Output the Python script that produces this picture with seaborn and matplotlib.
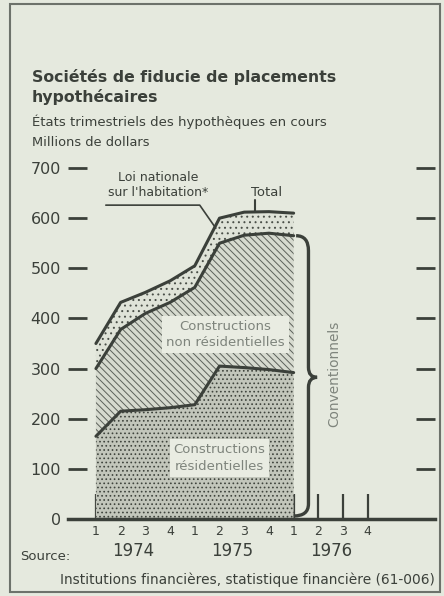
import matplotlib
matplotlib.use("Agg")
import matplotlib.pyplot as plt
import seaborn as sns
import numpy as np
import pandas as pd
from matplotlib.path import Path
from matplotlib.patches import PathPatch, Rectangle

# ---- data (millions of dollars, quarterly 1974Q1 - 1976Q1) ----
period_quarters = ["1", "2", "3", "4", "1", "2", "3", "4", "1"]
axis_quarter_labels = ["1", "2", "3", "4", "1", "2", "3", "4", "1", "2", "3", "4"]
years = ["1974", "1975", "1976"]
residential = [165, 215, 218, 222, 228, 305, 302, 298, 292]
non_residential = [135, 163, 192, 210, 234, 245, 264, 272, 273]
nha = [50, 54, 42, 43, 43, 50, 46, 43, 45]
y_ticks = [0, 100, 200, 300, 400, 500, 600, 700]

BG = "#e5e9de"
INK = "#3b403a"
FAINT = "#7e847c"

sns.set_theme(style="white")
plt.rcParams["font.family"] = ["DejaVu Sans"]
plt.rcParams["hatch.linewidth"] = 0.7

x = np.arange(len(residential))
res = np.array(residential, dtype=float)
conv = res + np.array(non_residential)
total = conv + np.array(nha)

df = pd.DataFrame({"idx": x, "res": res, "conv": conv, "total": total})

fig = plt.figure(figsize=(4.44, 5.96), dpi=100, facecolor=BG)
ax = fig.add_axes([68 / 444, 1 - 519 / 596, (435 - 68) / 444, (519 - 158) / 596])
ax.set_facecolor(BG)

# stacked layers
ax.fill_between(x, 0, res, facecolor="#c2c6bb", edgecolor="#3f443d", hatch="....", linewidth=0, zorder=1)
ax.fill_between(x, res, conv, facecolor="#d6dacf", edgecolor="#5c615a", hatch="\\\\\\\\\\", linewidth=0, zorder=1)
ax.fill_between(x, conv, total, facecolor="#dfe3d8", edgecolor="#4a4f48", hatch="...", linewidth=0, zorder=1)

for col in ["res", "conv", "total"]:
    sns.lineplot(data=df, x="idx", y=col, ax=ax, color=INK, linewidth=2.2, zorder=3)

ax.set_xlim(-1.13, 13.72)
ax.set_ylim(0, 720)
ax.set_xlabel("")
ax.set_ylabel("")

for s in ["top", "right", "left"]:
    ax.spines[s].set_visible(False)
ax.spines["bottom"].set_color(INK)
ax.spines["bottom"].set_linewidth(2.5)
ax.spines["bottom"].set_zorder(4)

ax.set_yticks(y_ticks)
ax.set_yticklabels([str(v) for v in y_ticks])
ax.tick_params(axis="y", direction="in", length=14, width=2, color=INK,
               left=True, right=True, labelsize=11.5, labelcolor=INK, pad=5)
ax.set_xticks(np.arange(len(axis_quarter_labels)))
ax.set_xticklabels(axis_quarter_labels)
ax.tick_params(axis="x", direction="in", length=18, width=1.6, color=INK,
               bottom=True, labelsize=9, labelcolor=INK, pad=4)

# year labels
for i, yr in enumerate(years):
    ax.text(1.5 + 4 * i, -0.09, yr, transform=ax.get_xaxis_transform(),
            ha="center", va="center", fontsize=12, color=INK)

# layer labels
ax.text(5.25, 368, "Constructions\nnon résidentielles", ha="center", va="center",
        fontsize=9.5, color=FAINT, linespacing=1.35, zorder=5,
        bbox=dict(boxstyle="square,pad=0.3", facecolor="#e9ece2", edgecolor="none"))
ax.text(5.0, 122, "Constructions\nrésidentielles", ha="center", va="center",
        fontsize=9.5, color=FAINT, linespacing=1.35, zorder=5,
        bbox=dict(boxstyle="square,pad=0.3", facecolor="#e9ece2", edgecolor="none"))

# NHA callout
ax.text(2.5, 666, "Loi nationale\nsur l'habitation*", ha="center", va="center",
        fontsize=9, color=INK, linespacing=1.15)
ax.plot([0.4, 4.2, 4.85], [626, 626, 580], color=INK, linewidth=1.2, zorder=5)

# Total callout
ax.text(6.9, 652, "Total", ha="center", va="center", fontsize=9.5, color=INK, zorder=5)
ax.plot([6.45, 6.45], [636, total[6]], color=INK, linewidth=1.5, zorder=5)

# brace for conventional
xb, xm, xt = len(x) - 1 + 0.1, len(x) - 1 + 0.6, len(x) - 1 + 0.95
top, bot = conv[-1], 0.0
mid = (top + bot) / 2
verts = [(xb, top), (xm, top), (xm, top - 30),
         (xm, mid + 20), (xm, mid), (xt, mid),
         (xm, mid), (xm, mid - 20),
         (xm, bot + 30), (xm, bot + 6), (xb - 0.1, bot + 6)]
codes = [Path.MOVETO, Path.CURVE3, Path.CURVE3,
         Path.LINETO, Path.CURVE3, Path.CURVE3,
         Path.CURVE3, Path.CURVE3,
         Path.LINETO, Path.CURVE3, Path.CURVE3]
ax.add_patch(PathPatch(Path(verts, codes), facecolor="none", edgecolor=INK, linewidth=2.4, zorder=5))
ax.text(len(x) - 1 + 1.65, mid + 8, "Conventionnels", rotation=90, ha="center", va="center",
        fontsize=9.8, color=FAINT)

# titles
fig.text(32 / 444, 1 - 77 / 596, "Sociétés de fiducie de placements", ha="left", va="center",
         fontsize=11.3, fontweight="bold", color=INK)
fig.text(32 / 444, 1 - 97 / 596, "hypothécaires", ha="left", va="center",
         fontsize=11.3, fontweight="bold", color=INK)
fig.text(32 / 444, 1 - 122 / 596, "États trimestriels des hypothèques en cours", ha="left", va="center",
         fontsize=9.5, color=INK)
fig.text(32 / 444, 1 - 143 / 596, "Millions de dollars", ha="left", va="center",
         fontsize=9.4, color=INK)
fig.text(20 / 444, 1 - 557 / 596, "Source:", ha="left", va="center", fontsize=9.5, color=INK)
fig.text(60 / 444, 1 - 580 / 596, "Institutions financières, statistique financière (61-006)",
         ha="left", va="center", fontsize=9.9, color=INK)

# frame
fig.patches.append(Rectangle((10 / 444, 4 / 596), 430 / 444, 588 / 596, transform=fig.transFigure,
                             facecolor="none", edgecolor="#6d726b", linewidth=1.5))

fig.savefig("out.png", dpi=100, facecolor=BG)
